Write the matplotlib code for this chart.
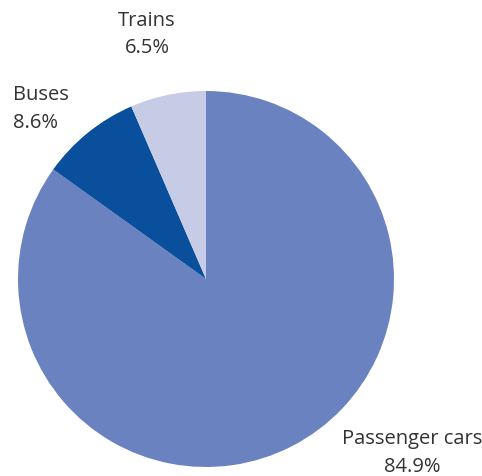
import matplotlib
matplotlib.use("Agg")
import matplotlib.pyplot as plt

categories = ["Passenger cars", "Buses", "Trains"]
shares = [84.9, 8.6, 6.5]
colors = ["#6a82c0", "#0a4f9c", "#c6cbe6"]

# label anchor positions in pie units (radius 1) and alignment
label_pos = [(1.096, -0.925, "center"), (-1.027, 0.905, "left"), (-0.314, 1.30, "center")]

fig = plt.figure(figsize=(4.82, 4.76), dpi=100)
ax = fig.add_axes([18 / 482, 9 / 476, 376 / 482, 376 / 476])
ax.pie(shares, colors=colors, startangle=90, counterclock=False, radius=1.0,
       wedgeprops=dict(linewidth=0))
ax.set_xlim(-1, 1)
ax.set_ylim(-1, 1)
ax.set_aspect("auto")
ax.axis("off")

for name, val, (x, y, ha) in zip(categories, shares, label_pos):
    ax.text(x, y, f"{name}\n{val:.1f}%", ha=ha, va="center", fontsize=14.5,
            family="Open Sans", color="#333333", linespacing=1.5, clip_on=False)

fig.savefig("out.png", dpi=100)
